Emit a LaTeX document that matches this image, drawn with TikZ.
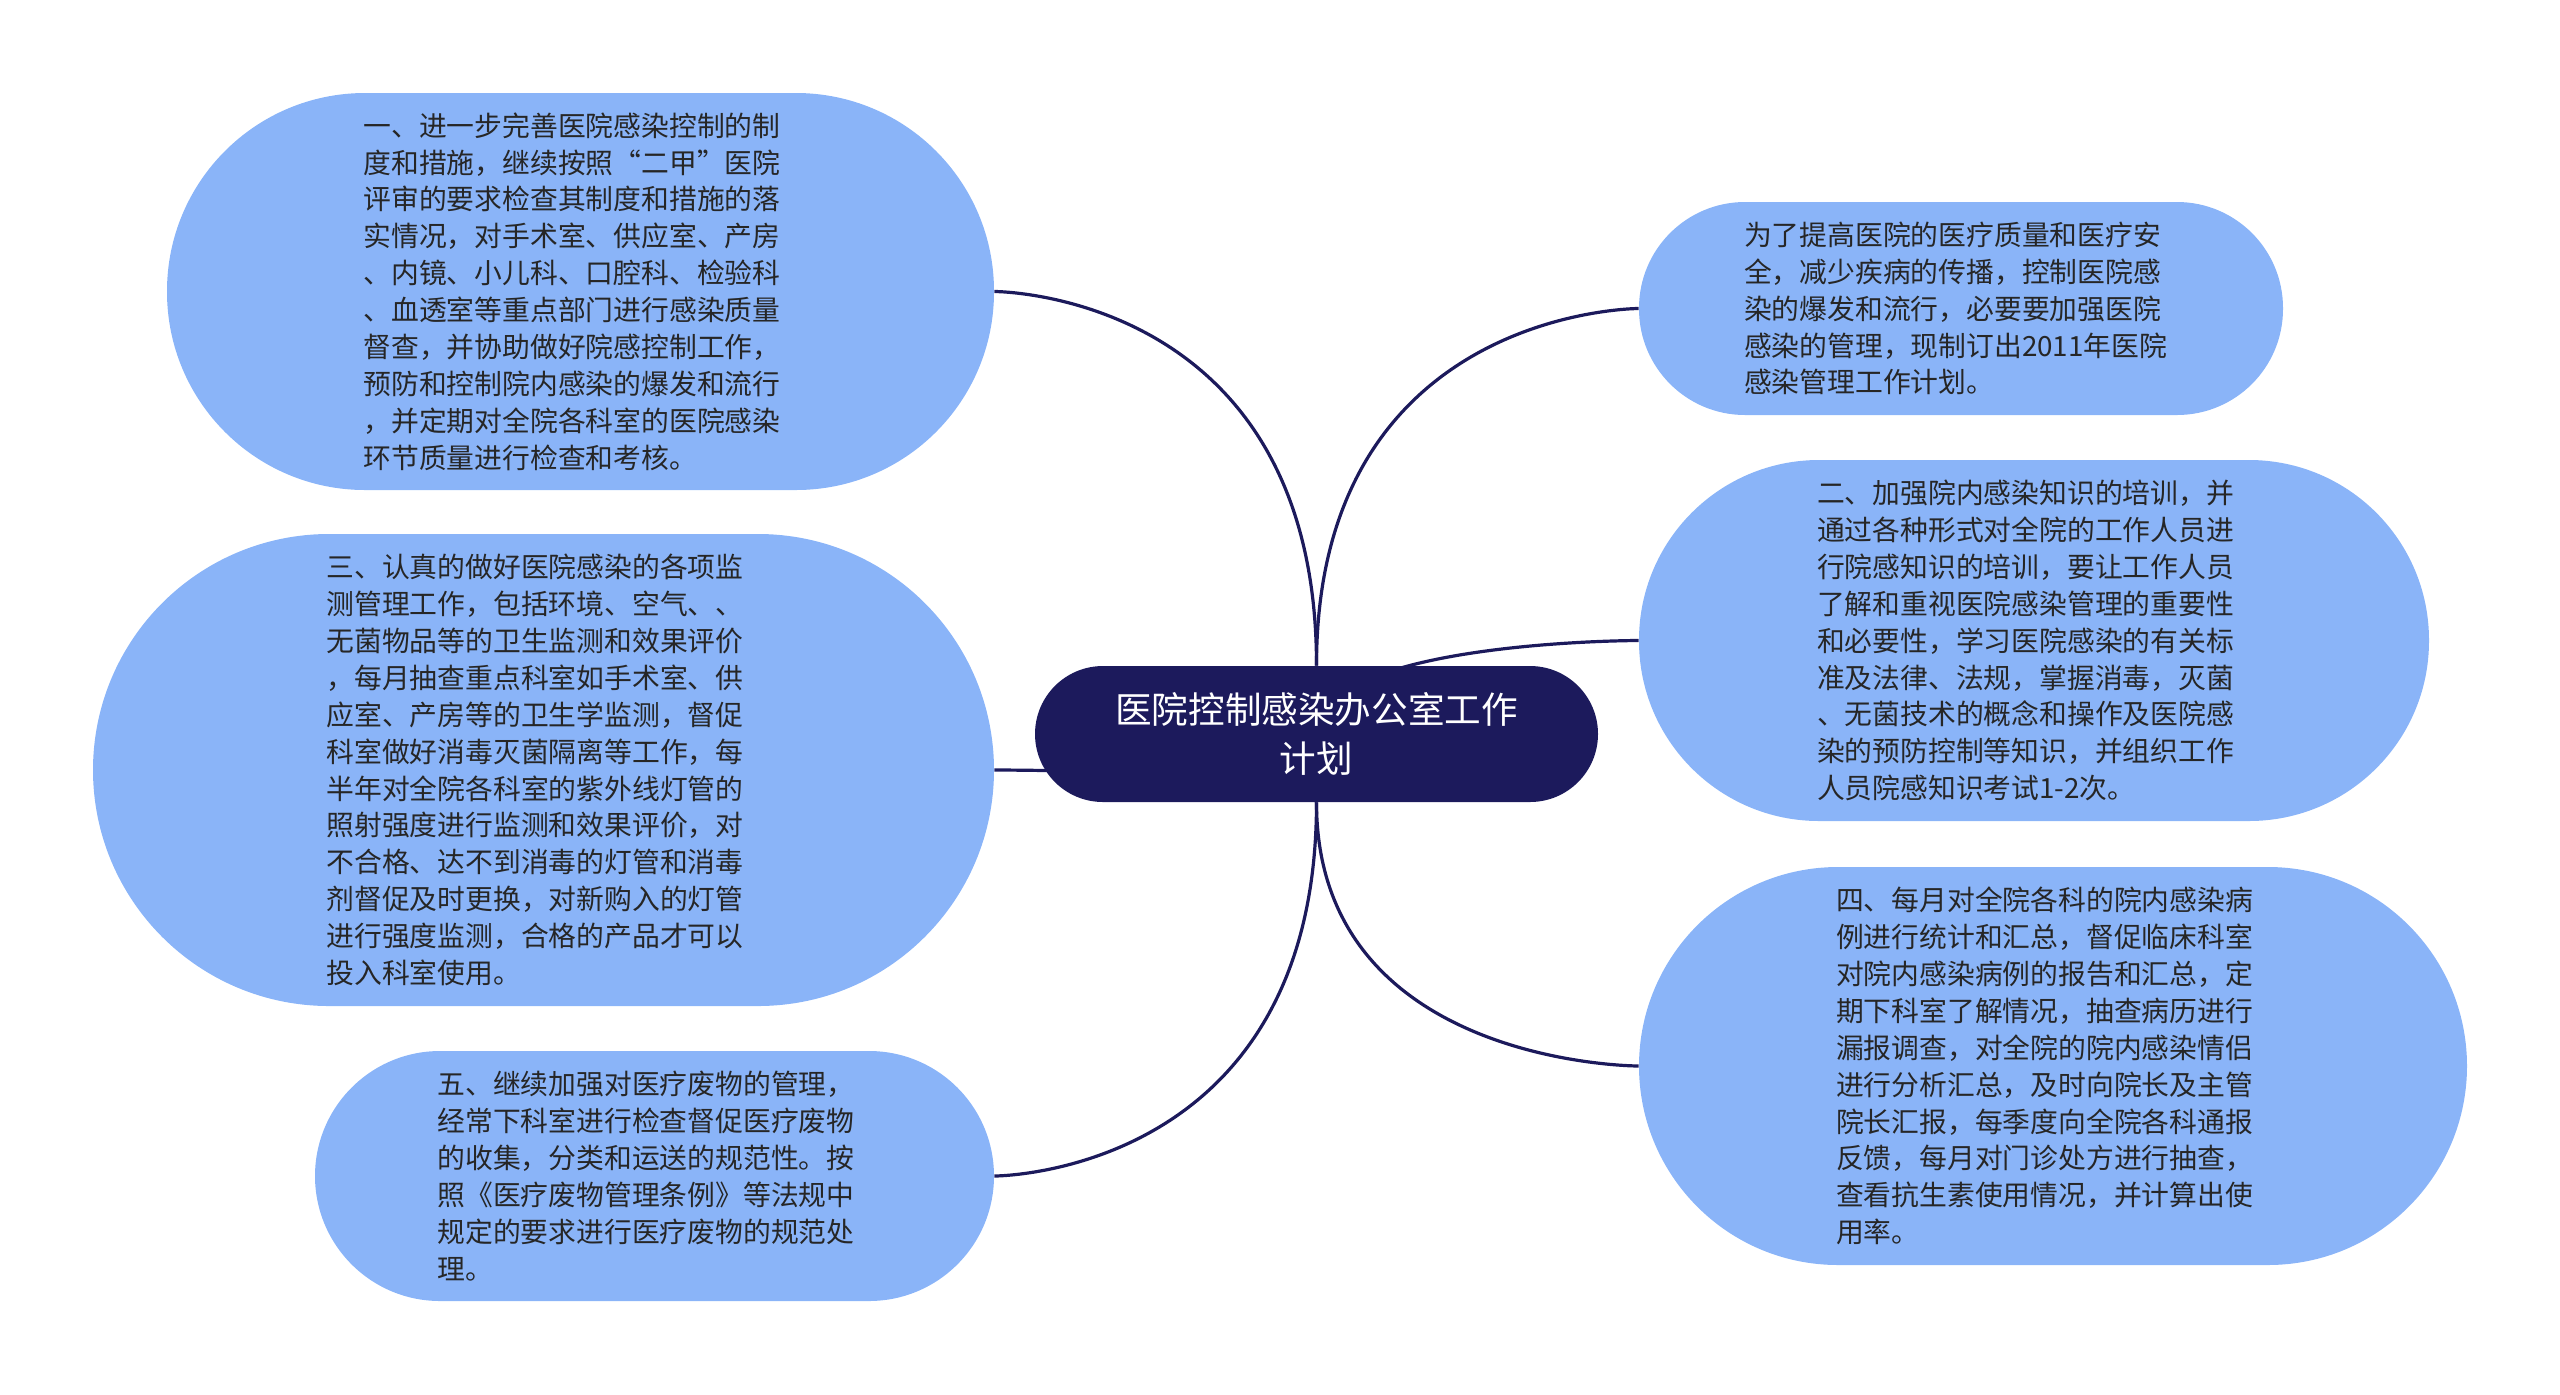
\documentclass[tikz,border=0pt]{standalone}
\usepackage{fontspec}
\setmainfont{Noto Sans CJK SC}
\usetikzlibrary{backgrounds}

\definecolor{rootblue}{HTML}{1C1A5C}
\definecolor{leafblue}{HTML}{8AB4F8}
\definecolor{leaftext}{HTML}{262626}

\begin{document}
\begin{tikzpicture}
  [x=0.5pt,y=-0.5pt,
    topic/.style={fill=rootblue,text=white,align=center,inner sep=0pt,
      minimum width=281.5pt,minimum height=68pt,rounded corners=34pt,
    font=\fontsize{18.3pt}{24.5pt}\selectfont},
    branch/.style={fill=leafblue,text=leaftext,align=left,inner sep=0pt,
    text width=217pt,font=\fontsize{13.9pt}{18.45pt}\selectfont},
    link/.style={draw=rootblue,line width=1.6pt},
  ]
  \useasboundingbox (0,0) rectangle (2560,1394);

  \node[topic] (root) at (1316.5,734) {医院控制感染办公室工作\\计划};

  % left side
  \node[branch,minimum width=413.5pt,minimum height=198.5pt,rounded corners=99pt]
  (yi) at (580.5,291.5) {一、进一步完善医院感染控制的制\\度和措施，继续按照“二甲”医院\\评审的要求检查其制度和措施的落\\实情况，对手术室、供应室、产房\\、内镜、小儿科、口腔科、检验科\\、血透室等重点部门进行感染质量\\督查，并协助做好院感控制工作，\\预防和控制院内感染的爆发和流行\\，并定期对全院各科室的医院感染\\环节质量进行检查和考核。};
  \node[branch,minimum width=450.5pt,minimum height=236pt,rounded corners=118pt]
  (san) at (543.5,770) {三、认真的做好医院感染的各项监\\测管理工作，包括环境、空气、、\\无菌物品等的卫生监测和效果评价\\，每月抽查重点科室如手术室、供\\应室、产房等的卫生学监测，督促\\科室做好消毒灭菌隔离等工作，每\\半年对全院各科室的紫外线灯管的\\照射强度进行监测和效果评价，对\\不合格、达不到消毒的灯管和消毒\\剂督促及时更换，对新购入的灯管\\进行强度监测，合格的产品才可以\\投入科室使用。};
  \node[branch,minimum width=339.5pt,minimum height=125pt,rounded corners=62.5pt]
  (wu) at (654.5,1176) {五、继续加强对医疗废物的管理，\\经常下科室进行检查督促医疗废物\\的收集，分类和运送的规范性。按\\照《医疗废物管理条例》等法规中\\规定的要求进行医疗废物的规范处\\理。};

  % right side
  \node[branch,minimum width=322pt,minimum height=106.5pt,rounded corners=53pt]
  (intro) at (1961,308.5) {为了提高医院的医疗质量和医疗安\\全，减少疾病的传播，控制医院感\\染的爆发和流行，必要要加强医院\\感染的管理，现制订出2011年医院\\感染管理工作计划。};
  \node[branch,minimum width=395pt,minimum height=180.5pt,rounded corners=90pt]
  (er) at (2034,640.5) {二、加强院内感染知识的培训，并\\通过各种形式对全院的工作人员进\\行院感知识的培训，要让工作人员\\了解和重视医院感染管理的重要性\\和必要性，学习医院感染的有关标\\准及法律、法规，掌握消毒，灭菌\\、无菌技术的概念和操作及医院感\\染的预防控制等知识，并组织工作\\人员院感知识考试1-2次。};
  \node[branch,minimum width=414pt,minimum height=199pt,rounded corners=99.5pt]
  (si) at (2053,1066) {四、每月对全院各科的院内感染病\\例进行统计和汇总，督促临床科室\\对院内感染病例的报告和汇总，定\\期下科室了解情况，抽查病历进行\\漏报调查，对全院的院内感染情侣\\进行分析汇总，及时向院长及主管\\院长汇报，每季度向全院各科通报\\反馈，每月对门诊处方进行抽查，\\查看抗生素使用情况，并计算出使\\用率。};

  % connectors behind the nodes
  \begin{scope}[on background layer]
    \draw[link] (root.north) .. controls (root.north |- yi.east) and (yi.east) .. (yi.east);
    \draw[link] (root.north) .. controls (root.north |- intro.west) and (intro.west) .. (intro.west);
    \draw[link] (root.center) .. controls (root.center |- er.west) and (er.west) .. (er.west);
    \draw[link] (root.south) .. controls (root.south |- san.east) and (san.east) .. (san.east);
    \draw[link] (root.south) .. controls (root.south |- wu.east) and (wu.east) .. (wu.east);
    \draw[link] (root.south) .. controls (root.south |- si.west) and (si.west) .. (si.west);
  \end{scope}
\end{tikzpicture}
\end{document}
